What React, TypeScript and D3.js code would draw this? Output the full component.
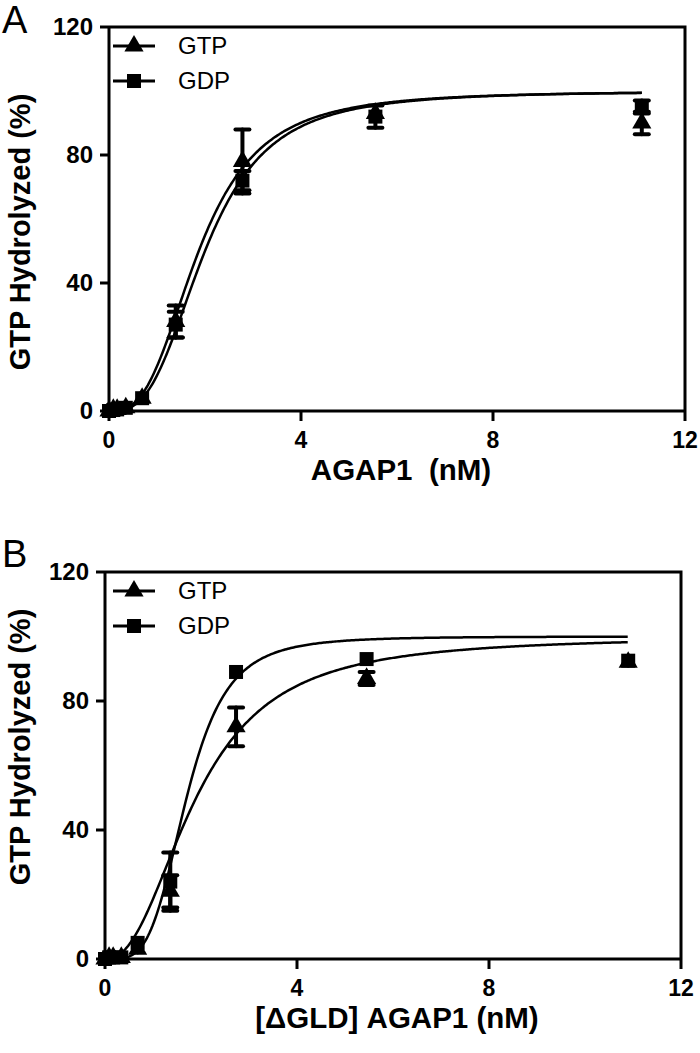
import React from "react";
import * as d3 from "d3";

// ---------- Data ----------
const xTicks = [0, 4, 8, 12];
const yTicks = [0, 40, 80, 120];

// Panel A: AGAP1 (nM)
const concA = [0.0, 0.09, 0.17, 0.35, 0.69, 1.39, 2.78, 5.55, 11.1];
const gtpA = [0, 0.5, 0.5, 1, 4, 28, 78, 93, 90];
const gtpAErr = [0.5, 0.5, 0.5, 0.5, 1, 5, 10, 1.5, 3.5];
const gdpA = [0, 0.3, 0.5, 1, 4, 27, 72, 92, 95];
const gdpAErr = [0.5, 0.5, 0.5, 0.5, 1, 4, 3, 3.5, 2];
// Hill fit parameters (EC50, Hill slope, top)
const fitGtpA = [1.87, 2.9, 100];
const fitGdpA = [2.0, 3.0, 100];

// Panel B: [ΔGLD] AGAP1 (nM)
const concB = [0.0, 0.085, 0.17, 0.34, 0.68, 1.36, 2.73, 5.45, 10.9];
const gtpB = [0, 0.5, 0.5, 0.5, 3, 21, 72, 87, 92];
const gtpBErr = [0.5, 0.5, 0.5, 0.5, 1, 5, 6, 2, 1];
const gdpB = [0, 0.5, 0.5, 0.5, 5, 24, 89, 93, 92.5];
const gdpBErr = [0.5, 0.5, 0.5, 0.5, 1, 9, 1, 1, 1.5];
const fitGtpB = [1.9, 2.3, 100];
const fitGdpB = [1.7, 4.0, 100];

const seriesNames = ["GTP", "GDP"];

// ---------- Drawing ----------
const FONT = "'Liberation Sans', Arial, sans-serif";

function hill(p: number[], x: number) {
  const [ec, h, top] = p;
  return (top * Math.pow(x, h)) / (Math.pow(ec, h) + Math.pow(x, h));
}

function Triangle({ cx, cy, s }: { cx: number; cy: number; s: number }) {
  const path = d3.symbol(d3.symbolTriangle, s * s * 0.55)();
  return <path d={path || ""} transform={`translate(${cx},${cy})`} fill="#000" />;
}
function Square({ cx, cy, s }: { cx: number; cy: number; s: number }) {
  return <rect x={cx - s / 2} y={cy - s / 2} width={s} height={s} fill="#000" />;
}

type PanelProps = {
  letter: string;
  x0: number;
  x1: number;
  yTop: number;
  yBot: number;
  conc: number[];
  gtp: number[];
  gtpErr: number[];
  gdp: number[];
  gdpErr: number[];
  fitGtp: number[];
  fitGdp: number[];
  xTitle: string;
  letterY: number;
  yTitleCenter: number;
};

function Panel(p: PanelProps) {
  const x = d3.scaleLinear().domain([0, 12]).range([p.x0, p.x1]);
  const y = d3.scaleLinear().domain([0, 120]).range([p.yBot, p.yTop]);
  const curveXs = d3.range(0.03, p.conc[p.conc.length - 1] + 0.001, 0.03);
  const line = d3
    .line<number>()
    .x((d) => x(d))
    .curve(d3.curveLinear);
  const gtpPath = line.y((d) => y(hill(p.fitGtp, d)))(curveXs) || "";
  const gdpPath = line.y((d) => y(hill(p.fitGdp, d)))(curveXs) || "";
  const ms = 15;
  const cap = 7;

  const errBars = (vals: number[], errs: number[], key: string) =>
    p.conc.map((c, i) => {
      const cx = x(c);
      const yt = y(vals[i] + errs[i]);
      const yb = y(vals[i] - errs[i]);
      return (
        <g key={key + i} stroke="#000" strokeWidth={4} strokeLinecap="round">
          <line x1={cx} x2={cx} y1={yt} y2={yb} />
          {errs[i] > 1.5 && (
            <>
              <line x1={cx - cap} x2={cx + cap} y1={yt} y2={yt} />
              <line x1={cx - cap} x2={cx + cap} y1={yb} y2={yb} />
            </>
          )}
        </g>
      );
    });

  const legRows = [p.yTop + 19, p.yTop + 54];
  return (
    <g>
      <text x={2} y={p.letterY} fontFamily={FONT} fontSize={38} fill="#000">
        {p.letter}
      </text>
      {/* frame */}
      <path
        d={`M${p.x0},${p.yTop}H${p.x1}V${p.yBot}`}
        fill="none"
        stroke="#000"
        strokeWidth={3}
      />
      <line x1={p.x0} x2={p.x0} y1={p.yTop} y2={p.yBot} stroke="#000" strokeWidth={3} />
      <line x1={p.x0} x2={p.x1} y1={p.yBot} y2={p.yBot} stroke="#000" strokeWidth={3} />
      {yTicks.map((t) => (
        <g key={"yt" + t}>
          <line x1={p.x0 - 9} x2={p.x0} y1={y(t)} y2={y(t)} stroke="#000" strokeWidth={3} />
          <text
            x={p.x0 - 16}
            y={y(t) + 8}
            textAnchor="end"
            fontFamily={FONT}
            fontWeight="bold"
            fontSize={24}
          >
            {t}
          </text>
        </g>
      ))}
      {xTicks.map((t) => (
        <g key={"xt" + t}>
          <line x1={x(t)} x2={x(t)} y1={p.yBot} y2={p.yBot + 10} stroke="#000" strokeWidth={3} />
          <text
            x={x(t)}
            y={p.yBot + 37}
            textAnchor="middle"
            fontFamily={FONT}
            fontWeight="bold"
            fontSize={23}
          >
            {t}
          </text>
        </g>
      ))}
      <text
        x={(p.x0 + p.x1) / 2 + 4}
        y={p.yBot + 69}
        textAnchor="middle"
        fontFamily={FONT}
        fontWeight="bold"
        fontSize={29.5}
        style={{ whiteSpace: "pre" }}
      >
        {p.xTitle}
      </text>
      <text
        transform={`translate(30,${p.yTitleCenter}) rotate(-90)`}
        textAnchor="middle"
        fontFamily={FONT}
        fontWeight="bold"
        fontSize={29}
      >
        GTP Hydrolyzed (%)
      </text>
      {/* curves */}
      <path d={gtpPath} fill="none" stroke="#000" strokeWidth={2.5} />
      <path d={gdpPath} fill="none" stroke="#000" strokeWidth={2.5} />
      {errBars(p.gtp, p.gtpErr, "ge")}
      {errBars(p.gdp, p.gdpErr, "de")}
      {p.conc.map((c, i) => (
        <Triangle key={"tr" + i} cx={x(c)} cy={y(p.gtp[i])} s={ms + 2} />
      ))}
      {p.conc.map((c, i) => (
        <Square key={"sq" + i} cx={x(c)} cy={y(p.gdp[i])} s={ms - 1} />
      ))}
      {/* legend */}
      {seriesNames.map((n, i) => (
        <g key={"lg" + n}>
          <line x1={113} x2={155} y1={legRows[i]} y2={legRows[i]} stroke="#000" strokeWidth={3} />
          {i === 0 ? (
            <Triangle cx={134} cy={legRows[i]} s={ms + 2} />
          ) : (
            <Square cx={134} cy={legRows[i]} s={ms - 1} />
          )}
          <text x={178} y={legRows[i] + 8} fontFamily={FONT} fontSize={24}>
            {n}
          </text>
        </g>
      ))}
    </g>
  );
}

export default function App() {
  return (
    <svg width={700} height={1053} style={{ display: "block", position: "absolute", left: 0, top: 0, background: "#fff" }}>
      <rect width={700} height={1053} fill="#fff" />
      <Panel
        letter="A"
        letterY={33}
        x0={109}
        x1={685}
        yTop={27}
        yBot={411}
        conc={concA}
        gtp={gtpA}
        gtpErr={gtpAErr}
        gdp={gdpA}
        gdpErr={gdpAErr}
        fitGtp={fitGtpA}
        fitGdp={fitGdpA}
        xTitle={"AGAP1  (nM)"}
        yTitleCenter={232}
      />
      <Panel
        letter="B"
        letterY={567}
        x0={105}
        x1={681}
        yTop={572}
        yBot={959}
        conc={concB}
        gtp={gtpB}
        gtpErr={gtpBErr}
        gdp={gdpB}
        gdpErr={gdpBErr}
        fitGtp={fitGtpB}
        fitGdp={fitGdpB}
        xTitle={"[ΔGLD] AGAP1 (nM)"}
        yTitleCenter={747}
      />
    </svg>
  );
}
